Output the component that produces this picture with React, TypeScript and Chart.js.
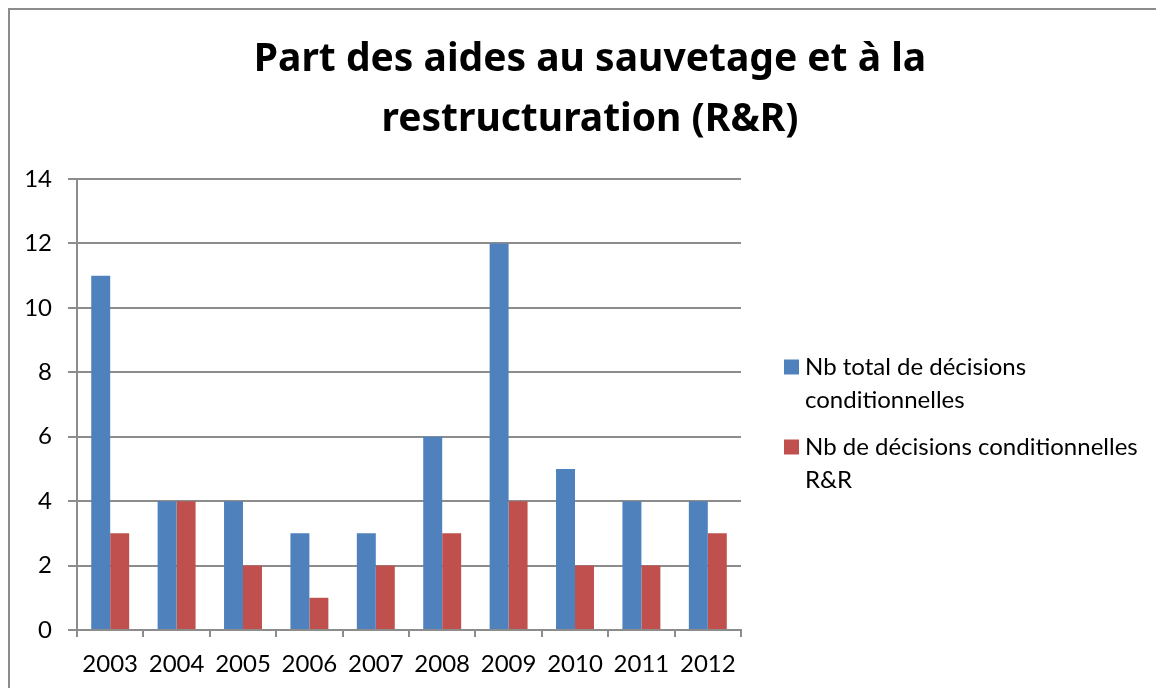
import React, { useEffect, useRef } from 'react';
import { Chart, registerables } from 'chart.js';

Chart.register(...registerables);

const categories = ['2003', '2004', '2005', '2006', '2007', '2008', '2009', '2010', '2011', '2012'];
const totalDecisions = [11, 4, 4, 3, 3, 6, 12, 5, 4, 4];
const rrDecisions = [3, 4, 2, 1, 2, 3, 4, 2, 2, 3];
const seriesLabels = [
  ['Nb total de décisions', 'conditionnelles'],
  ['Nb de décisions conditionnelles', 'R&R'],
];
const titleLines = ['Part des aides au sauvetage et à la', 'restructuration (R&R)'];
const yMin = 0;
const yMax = 14;
const yStep = 2;

const BLUE = '#4F81BD';
const RED = '#C0504D';
const GRID = '#8c8c8c';
const FONT = 'Lato, "Noto Sans", sans-serif';
const TITLE_FONT = '"Noto Sans", Lato, sans-serif';

const sideTitle = {
  id: 'sideTitle',
  afterDraw(chart: any) {
    const { ctx } = chart;
    ctx.save();
    ctx.font = `bold 39px ${TITLE_FONT}`;
    ctx.textBaseline = 'middle';
    ctx.textAlign = 'center';
    ctx.fillStyle = '#000';
    titleLines.forEach((line, i) => {
      ctx.fillText(line, 580, 50 + i * 60);
    });
    ctx.restore();
  },
};

const sideLegend = {
  id: 'sideLegend',
  afterDraw(chart: any) {
    const { ctx, chartArea } = chart;
    const x0 = chartArea.right + 43;
    ctx.save();
    ctx.font = `24px ${FONT}`;
    ctx.textBaseline = 'middle';
    ctx.textAlign = 'left';
    chart.data.datasets.forEach((ds: any, i: number) => {
      const y = chartArea.top + 188 + i * 80;
      ctx.fillStyle = ds.backgroundColor;
      ctx.fillRect(x0, y - 7.5, 15, 15);
      ctx.fillStyle = '#000';
      const lines: string[] = ds.legendLines;
      lines.forEach((line, j) => {
        ctx.fillText(line, x0 + 21, y + j * 33);
      });
    });
    ctx.restore();
  },
};

export default function App() {
  const ref = useRef<HTMLCanvasElement | null>(null);

  useEffect(() => {
    document.documentElement.style.overflow = 'hidden';
    if (!ref.current) return;
    const chart = new Chart(ref.current, {
      type: 'bar',
      data: {
        labels: categories,
        datasets: [
          {
            label: seriesLabels[0].join(' '),
            data: totalDecisions,
            backgroundColor: BLUE,
            borderWidth: 0,
            categoryPercentage: 2 / 3.5,
            barPercentage: 1,
            legendLines: seriesLabels[0],
          } as any,
          {
            label: seriesLabels[1].join(' '),
            data: rrDecisions,
            backgroundColor: RED,
            borderWidth: 0,
            categoryPercentage: 2 / 3.5,
            barPercentage: 1,
            legendLines: seriesLabels[1],
          } as any,
        ],
      },
      options: {
        responsive: false,
        animation: false,
        layout: { padding: { left: 0, right: 423, top: 169, bottom: 0 } },
        plugins: {
          legend: { display: false },
          tooltip: { enabled: false },
          title: { display: false },
        },
        scales: {
          x: {
            offset: true,
            grid: {
              display: true,
              offset: true,
              drawOnChartArea: false,
              drawTicks: true,
              tickLength: 7,
              color: GRID,
              lineWidth: 2,
            },
            border: { display: true, color: GRID, width: 2 },
            ticks: {
              color: '#000',
              font: { family: FONT, size: 24 },
              padding: 13,
              maxRotation: 0,
            },
            afterFit(scale: any) {
              scale.height = 58;
            },
          },
          y: {
            min: yMin,
            max: yMax,
            grid: {
              display: true,
              drawTicks: true,
              tickLength: 9,
              color: GRID,
              lineWidth: 2,
            },
            border: { display: true, color: GRID, width: 2 },
            ticks: {
              stepSize: yStep,
              color: '#000',
              font: { family: FONT, size: 24 },
              padding: 16,
            },
            afterFit(scale: any) {
              scale.width = 67;
            },
          },
        },
      },
      plugins: [sideTitle, sideLegend],
    });
    return () => chart.destroy();
  }, []);

  return (
    <div
      style={{
        width: 1156,
        height: 680,
        boxSizing: 'border-box',
        borderLeft: `2px solid ${GRID}`,
        borderTop: `2px solid ${GRID}`,
        background: '#fff',
      }}
    >
      <canvas ref={ref} width={1154} height={678} style={{ display: 'block', width: 1154, height: 678 }} />
    </div>
  );
}
